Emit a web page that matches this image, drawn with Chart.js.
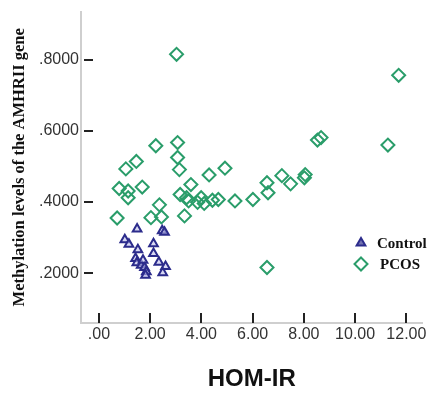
<!DOCTYPE html>
<html>
<head>
<meta charset="utf-8">
<script src="https://cdn.jsdelivr.net/npm/chart.js@4"></script>
<style>
  html, body { margin: 0; padding: 0; background: #fff; }
  #wrap { width: 431px; height: 394px; }
</style>
</head>
<body>
<div id="wrap"><canvas id="plot" width="431" height="394"></canvas></div>
<script>
// HOM-IR vs methylation level
const controlX = [1.49, 2.47, 2.56, 1.01, 1.17, 1.52, 2.13, 2.13, 1.43, 1.48, 1.65, 1.78, 1.85, 1.82, 2.34, 2.60, 2.49, 1.72];
const controlY = [0.324, 0.319, 0.315, 0.294, 0.281, 0.266, 0.283, 0.255, 0.241, 0.229, 0.222, 0.216, 0.204, 0.194, 0.231, 0.219, 0.201, 0.236];

const pcosX = [3.03, 11.70, 11.28, 8.53, 8.67, 2.22, 3.07, 3.07, 3.14, 1.46,
               1.05, 4.92, 4.30, 7.14, 8.05, 8.02, 6.56, 7.48, 3.59, 0.79,
               1.14, 1.69, 6.60, 3.17, 3.42, 1.14, 3.99, 3.50, 3.85, 4.11,
               4.43, 4.66, 5.31, 6.01, 2.36, 2.03, 2.44, 0.71, 3.34, 6.56];
const pcosY = [0.815, 0.756, 0.560, 0.574, 0.581, 0.558, 0.567, 0.525, 0.491, 0.514,
               0.493, 0.495, 0.476, 0.474, 0.477, 0.468, 0.454, 0.451, 0.449, 0.438,
               0.431, 0.442, 0.426, 0.421, 0.412, 0.412, 0.412, 0.403, 0.399, 0.396,
               0.405, 0.407, 0.403, 0.407, 0.392, 0.356, 0.358, 0.355, 0.361, 0.216];

const xTicks = [0, 2, 4, 6, 8, 10, 12];
const yTicks = [0.2, 0.4, 0.6, 0.8];
const seriesNames = ['Control', 'PCOS'];

const CONTROL_COLOR = '#2c2c8c';
const PCOS_COLOR = '#2a9d6a';

function toPoints(xs, ys) {
    return xs.map((x, i) => ({ x: x, y: ys[i] }));
}

function xLabel(v) {
    const s = v.toFixed(2);
    return v === 0 ? s.slice(1) : s;
}

function yLabel(v) {
    return v.toFixed(4).slice(1);
}

// SPSS style: tick marks sit inside the plot
const innerTicks = {
    id: 'innerTicks',
    afterDraw(chart) {
        const ctx = chart.ctx;
        const xs = chart.scales.x;
        const ys = chart.scales.y;
        const area = chart.chartArea;
        ctx.save();
        ctx.strokeStyle = '#222';
        ctx.lineWidth = 2;
        ctx.beginPath();
        for (const v of xTicks) {
            const px = Math.round(xs.getPixelForValue(v));
            ctx.moveTo(px, area.bottom);
            ctx.lineTo(px, area.bottom - 10);
        }
        for (const v of yTicks) {
            const py = Math.round(ys.getPixelForValue(v));
            ctx.moveTo(area.left + 3, py);
            ctx.lineTo(area.left + 12, py);
        }
        ctx.stroke();
        ctx.restore();
    }
};

function drawMarker(ctx, style, r, x, y) {
    if (style === 'triangle') {
        ctx.moveTo(x, y - r);
        ctx.lineTo(x + r * 0.87, y + r * 0.5);
        ctx.lineTo(x - r * 0.87, y + r * 0.5);
        ctx.closePath();
    } else {
        ctx.moveTo(x, y - r);
        ctx.lineTo(x + r, y);
        ctx.lineTo(x, y + r);
        ctx.lineTo(x - r, y);
        ctx.closePath();
    }
}

// legend inside the plot, bottom right
const innerLegend = {
    id: 'innerLegend',
    afterDraw(chart) {
        const ctx = chart.ctx;
        const lx = 361;
        const rows = [243, 264];
        ctx.save();
        chart.data.datasets.forEach((ds, i) => {
            ctx.fillStyle = i === 0 ? '#7272b0' : 'rgba(255,255,255,0)';
            ctx.strokeStyle = ds.borderColor;
            ctx.lineWidth = ds.borderWidth;
            ctx.beginPath();
            drawMarker(ctx, ds.pointStyle, ds.pointRadius, lx, rows[i]);
            ctx.fill();
            ctx.stroke();
            ctx.fillStyle = '#111';
            ctx.font = 'bold 15px "Liberation Serif", "Times New Roman", serif';
            ctx.textBaseline = 'middle';
            ctx.fillText(ds.label, i === 0 ? 377 : 380, rows[i] + 1);
        });
        ctx.restore();
    }
};

const tickFont = { family: '"Liberation Sans", Arial, sans-serif', size: 16 };

new Chart(document.getElementById('plot'), {
    type: 'scatter',
    data: {
        datasets: [
            {
                label: seriesNames[0],
                data: toPoints(controlX, controlY),
                pointStyle: 'triangle',
                pointRadius: 5,
                borderWidth: 2,
                borderColor: CONTROL_COLOR,
                backgroundColor: 'rgba(190,190,235,0.6)'
            },
            {
                label: seriesNames[1],
                data: toPoints(pcosX, pcosY),
                pointStyle: 'rectRot',
                pointRadius: 6.5,
                borderWidth: 2,
                borderColor: PCOS_COLOR,
                backgroundColor: 'rgba(255,255,255,0)'
            }
        ]
    },
    options: {
        responsive: false,
        animation: false,
        events: [],
        layout: { padding: { top: 8, right: 6, left: 0, bottom: 0 } },
        plugins: {
            legend: { display: false },
            tooltip: { enabled: false }
        },
        scales: {
            x: {
                type: 'linear',
                min: -0.7,
                max: 12.63,
                afterFit(scale) { scale.height = 71; },
                afterBuildTicks(scale) { scale.ticks = xTicks.map(v => ({ value: v })); },
                border: { color: '#cfcfcf', width: 2 },
                grid: { display: false, drawTicks: false },
                ticks: {
                    color: '#333',
                    font: tickFont,
                    padding: 2,
                    maxRotation: 0,
                    callback: v => xLabel(v)
                },
                title: {
                    display: true,
                    text: 'HOM-IR',
                    color: '#111',
                    font: { family: '"Liberation Sans", Arial, sans-serif', size: 24, weight: 'bold' },
                    padding: { top: 7, bottom: 0 }
                }
            },
            y: {
                type: 'linear',
                min: 0.06,
                max: 0.935,
                afterFit(scale) { scale.width = 81; },
                afterBuildTicks(scale) { scale.ticks = yTicks.map(v => ({ value: v })); },
                border: { color: '#cfcfcf', width: 2 },
                grid: { display: false, drawTicks: false },
                ticks: {
                    color: '#333',
                    font: tickFont,
                    padding: 2,
                    callback: v => yLabel(v)
                },
                title: {
                    display: true,
                    text: 'Methylation levels of the AMHRII gene',
                    color: '#111',
                    font: { family: '"Liberation Serif", "Times New Roman", serif', size: 16.5, weight: 'bold' },
                    padding: { top: 10, bottom: 0 }
                }
            }
        }
    },
    plugins: [innerTicks, innerLegend]
});
</script>
</body>
</html>
